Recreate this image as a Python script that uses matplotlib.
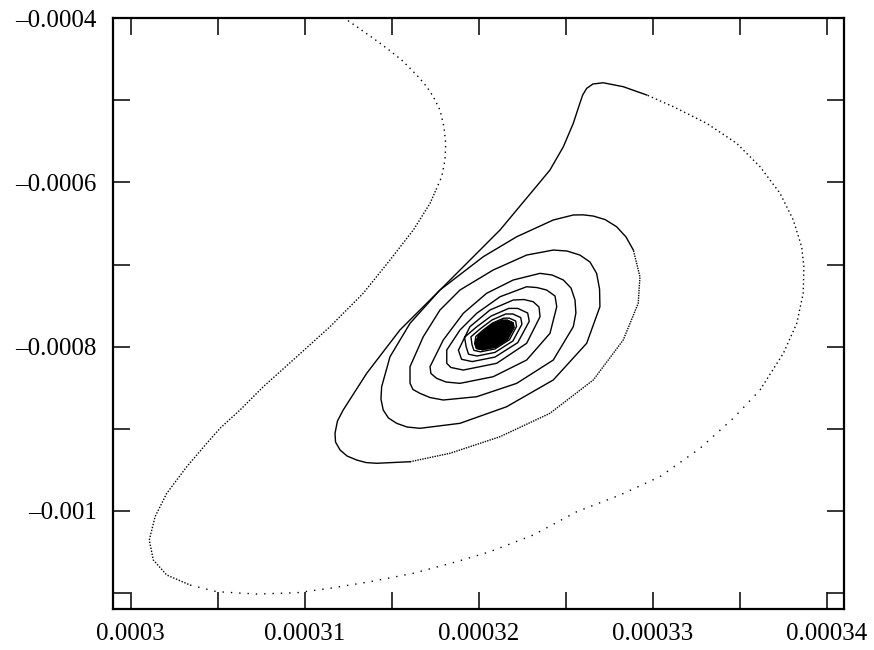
import numpy as np
import matplotlib
matplotlib.use("Agg")
import matplotlib.pyplot as plt

# trajectory, all values in units of 1e-6
# fast outer swing (drawn as sparse dots)
swing_top_x = [312.31, 312.44, 313.40, 314.21, 314.90, 315.57, 316.05, 316.52, 317.01, 317.39,
               317.77, 318.00, 318.10, 318.06, 317.87, 317.58]
swing_top_y = [-397.2, -402.1, -416.3, -428.5, -439.5, -450.8, -460.9, -471.1, -483.3, -495.5,
               -511.7, -532.1, -552.3, -572.6, -593.0, -607.1]
swing_left_x = [317.58, 317.20, 316.24, 314.90, 313.36, 311.45, 309.54, 307.62, 306.28, 305.13,
                304.37, 303.22, 302.07, 301.40, 301.07, 301.30, 302.07, 303.41]
swing_left_y = [-607.1, -625.4, -657.9, -694.4, -735.0, -775.7, -812.3, -848.8, -877.2, -899.5,
                -917.8, -946.3, -978.7, -1007.2, -1035.6, -1059.9, -1078.2, -1090.4]
swing_bottom_x = [303.41, 304.94, 307.24, 309.54, 311.45, 313.75, 316.24, 318.73, 320.64, 323.13,
                  325.63, 328.11, 330.41, 332.71, 334.62, 336.16]
swing_bottom_y = [-1090.4, -1098.5, -1101.4, -1099.8, -1094.4, -1086.4, -1076.1, -1062.0, -1049.8, -1029.5,
                  -1001.1, -980.8, -958.4, -923.9, -887.3, -852.8]
swing_right_x = [336.16, 337.50, 338.27, 338.64, 338.68, 338.55, 338.07, 337.31, 336.16, 334.82,
                 333.09, 331.18, 329.65]
swing_right_y = [-852.8, -808.1, -771.6, -735.0, -702.6, -678.3, -645.7, -613.2, -580.8, -552.3,
                 -527.9, -507.7, -493.4]

# slow part: over the hump and down into the first loop
descent_x = [329.65, 328.30, 327.15, 326.56, 326.20, 325.97, 325.77, 325.43, 324.86, 324.09,
             323.52, 321.22, 318.35, 315.47, 313.56, 312.21, 311.88, 311.74, 311.77, 312.03,
             312.43, 312.98, 313.52, 314.13, 316.05]
descent_y = [-493.4, -483.3, -478.5, -480.0, -485.3, -493.4, -505.9, -527.9, -556.4, -584.8,
             -599.4, -657.9, -718.8, -779.7, -832.5, -877.2, -890.6, -905.6, -916.2, -925.9,
             -933.2, -938.1, -941.2, -942.1, -940.2]

# faster stretch on the first loop (dense dots)
loop1_fast_x = [316.05, 318.35, 321.22, 324.09, 326.58, 328.30, 329.16, 329.26, 328.88]
loop1_fast_y = [-940.2, -929.9, -909.7, -881.2, -840.6, -791.9, -747.2, -714.8, -682.3]

# spiral into the focus
spiral_x = [
    328.88, 328.46, 327.92, 327.25, 326.58, 325.99, 325.43, 324.28, 322.18, 320.26,
    317.77, 316.05, 314.90, 314.42, 314.38, 314.51, 314.81, 315.28, 315.88, 316.62,
    318.92, 321.60, 324.28, 326.20, 326.96, 326.94, 326.77, 326.39, 325.81, 325.07,
    324.28, 322.75, 320.83,
    318.92, 317.77, 316.81, 316.05, 316.05, 316.22, 316.62, 317.20, 317.96, 319.88,
    322.18, 324.28, 325.43, 325.58, 325.53, 325.30, 324.86, 324.21, 323.52, 321.98,
    320.45,
    319.11, 317.96, 317.20, 317.25, 317.58, 318.12, 318.92, 320.83, 322.75, 324.09,
    324.48, 324.38, 323.90, 323.34, 322.75, 321.22, 319.88,
    318.92, 318.16, 318.16, 318.40, 319.11, 321.03, 322.75, 323.52, 323.46, 323.13,
    322.60, 321.98, 320.64, 319.49,
    318.83, 319.01, 319.62, 320.93, 322.24, 322.90, 322.81, 322.24, 321.72, 320.71,
    319.84, 319.18,
    319.28, 319.41, 319.90, 320.93, 321.96, 322.48, 322.41, 321.96, 321.55, 320.76,
    320.07, 319.55,
    319.61, 319.72, 320.10, 320.93, 321.76, 322.17, 322.12, 321.76, 321.43, 320.79,
    320.24, 319.83,
    319.77, 319.87, 320.21, 320.93, 321.65, 322.02, 321.97, 321.65, 321.36, 320.81,
    320.33, 319.97,
]
spiral_y = [
    -682.3, -666.4, -653.9, -645.1, -640.9, -639.4, -639.6, -645.7, -666.1, -690.4,
    -731.0, -771.6, -812.3, -848.8, -863.8, -877.2, -886.9, -893.4, -897.9, -899.5,
    -893.4, -873.2, -840.6, -795.9, -751.3, -729.8, -710.7, -696.9, -688.4, -683.5,
    -682.3, -688.4, -706.6,
    -731.0, -755.4, -787.9, -824.4, -844.7, -852.2, -856.9, -862.0, -865.0, -861.0,
    -844.7, -816.3, -775.7, -759.0, -743.2, -728.6, -718.8, -712.7, -710.7, -718.8,
    -735.0,
    -759.4, -791.9, -824.4, -832.7, -838.6, -843.1, -844.7, -836.6, -816.3, -783.8,
    -751.3, -738.3, -731.0, -728.0, -727.0, -739.2, -759.4,
    -779.7, -804.1, -820.3, -825.4, -828.5, -820.3, -795.9, -763.5, -751.7, -745.3,
    -742.6, -743.2, -755.4, -775.7,
    -804.3, -815.4, -818.2, -812.7, -795.1, -769.1, -759.0, -753.4, -753.4, -762.7,
    -776.5, -788.6,
    -800.4, -809.2, -811.4, -807.0, -793.1, -772.6, -764.6, -760.2, -760.2, -767.5,
    -778.5, -788.0,
    -797.5, -804.5, -806.3, -802.8, -791.6, -775.3, -768.8, -765.3, -765.3, -771.2,
    -780.0, -787.6,
    -796.0, -802.2, -803.7, -800.6, -790.9, -776.6, -771.0, -767.9, -767.9, -773.0,
    -780.7, -787.3,
]

# outline of the solid black core where the loops pile up
core_x = [319.77, 319.87, 320.21, 320.93, 321.65, 322.02, 321.97, 321.65, 321.36, 320.81,
          320.33, 319.97]
core_y = [-796.0, -802.2, -803.7, -800.6, -790.9, -776.6, -771.0, -767.9, -767.9, -773.0,
          -780.7, -787.3]

x_ticks = [0.0003, 0.000305, 0.00031, 0.000315, 0.00032, 0.000325, 0.00033, 0.000335, 0.00034]
x_labels = ["0.0003", "", "0.00031", "", "0.00032", "", "0.00033", "", "0.00034"]
y_ticks = [-0.0011, -0.001, -0.0009, -0.0008, -0.0007, -0.0006, -0.0005, -0.0004]
y_labels = ["", "\u20130.001", "", "\u20130.0008", "", "\u20130.0006", "", "\u20130.0004"]

plt.rcParams["font.family"] = ["Liberation Serif", "DejaVu Serif"]

fig = plt.figure(figsize=(8.74, 6.5), dpi=100)
ax = fig.add_axes([0.1296, 0.0626, 0.8364, 0.9092])

u = 1e-6
pieces = [
    (swing_top_x, swing_top_y, (0, (1, 3))),
    (swing_left_x, swing_left_y, (0, (1, 1.2))),
    (swing_bottom_x, swing_bottom_y, (0, (1, 5))),
    (swing_right_x, swing_right_y, (0, (1, 2.2))),
    (descent_x, descent_y, "-"),
    (loop1_fast_x, loop1_fast_y, (0, (1, 0.8))),
    (spiral_x, spiral_y, "-"),
]
for px, py, ls in pieces:
    ax.plot(np.array(px) * u, np.array(py) * u, color="black", lw=1.0, linestyle=ls)

ax.fill(np.array(core_x) * u, np.array(core_y) * u, color="black", lw=1.0)

ax.set_xlim(0.000299, 0.000341)
ax.set_ylim(-0.00112, -0.0004)
ax.set_xticks(x_ticks)
ax.set_xticklabels(x_labels)
ax.set_yticks(y_ticks)
ax.set_yticklabels(y_labels)
ax.tick_params(direction="in", length=12.5, width=1.1, top=True, right=True,
               labelsize=18)
ax.tick_params(axis="x", pad=10)
ax.tick_params(axis="y", pad=12)
for s in ax.spines.values():
    s.set_linewidth(1.6)

fig.savefig("out.png", dpi=100)
